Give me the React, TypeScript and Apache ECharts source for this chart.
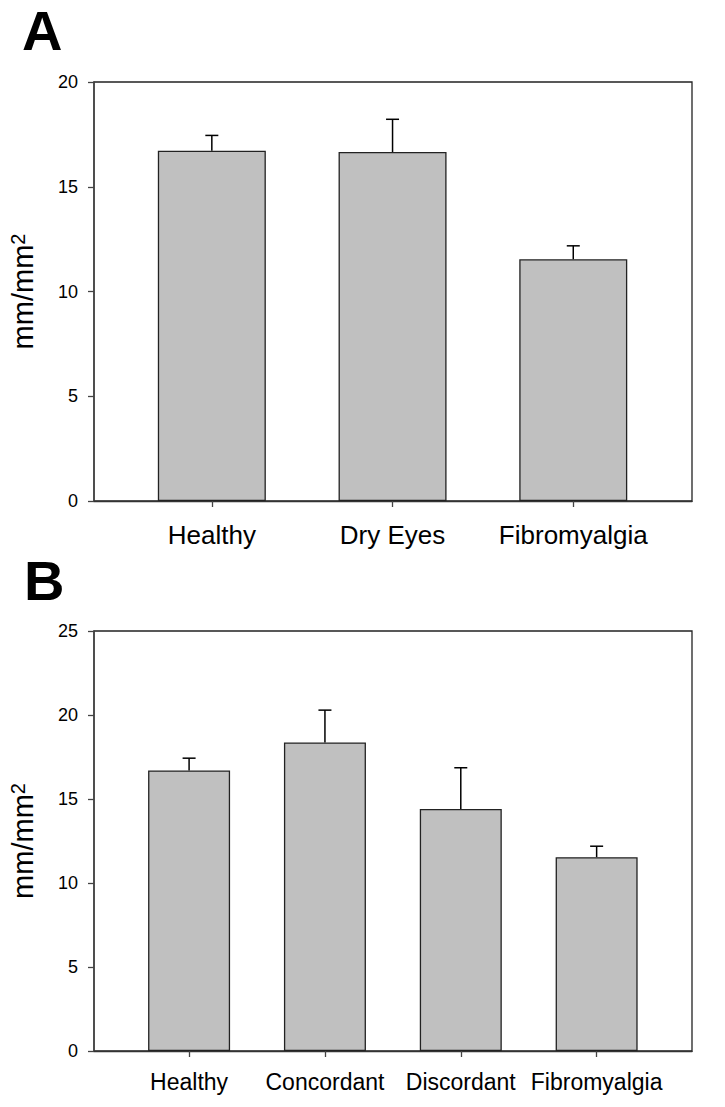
import React, { useEffect, useRef } from "react";
import * as echarts from "echarts";

// Panel A
const groupsA = ["Healthy", "Dry Eyes", "Fibromyalgia"];
const meansA = [16.72, 16.66, 11.54];
const upperA = [17.45, 18.22, 12.18];
const yTicksA = { min: 0, max: 20, interval: 5 };

// Panel B
const groupsB = ["Healthy", "Concordant", "Discordant", "Fibromyalgia"];
const meansB = [16.7, 18.37, 14.41, 11.54];
const upperB = [17.43, 20.29, 16.86, 12.19];
const yTicksB = { min: 0, max: 25, interval: 5 };

const yName = "mm/mm{sup|2}";
const FONT = "Arial, 'Liberation Sans', Helvetica, sans-serif";

function errRender(params: any, api: any) {
  const x = api.value(0);
  const v = api.value(1);
  const e = api.value(2);
  const p0 = api.coord([x, v]);
  const p1 = api.coord([x, e]);
  const hw = 6.5;
  const style = { stroke: "#000", lineWidth: 1.5 };
  return {
    type: "group",
    children: [
      { type: "line", shape: { x1: p0[0], y1: p0[1], x2: p1[0], y2: p1[1] }, style },
      { type: "line", shape: { x1: p1[0] - hw, y1: p1[1], x2: p1[0] + hw, y2: p1[1] }, style },
    ],
  };
}

function xAxisFor(groups: string[], idx: number, min: number, max: number, fontSize: number, margin: number) {
  const pos = groups.map((_, i) => i + 1);
  return {
    type: "value",
    gridIndex: idx,
    min,
    max,
    splitLine: { show: false },
    axisLine: { show: true, onZero: false, lineStyle: { color: "#333", width: 1.3 } },
    axisTick: { show: true, customValues: pos, length: 6, inside: false, lineStyle: { color: "#444", width: 1.3 } },
    axisLabel: {
      customValues: pos,
      formatter: (v: number) => groups[Math.round(v) - 1] ?? "",
      fontSize,
      fontFamily: FONT,
      color: "#000",
      margin,
    },
  };
}

function yAxisFor(idx: number, t: { min: number; max: number; interval: number }) {
  return {
    type: "value",
    gridIndex: idx,
    min: t.min,
    max: t.max,
    interval: t.interval,
    splitLine: { show: false },
    axisLine: { show: true, lineStyle: { color: "#444", width: 1.5 } },
    axisTick: { show: true, length: 6, inside: false, lineStyle: { color: "#444", width: 1.3 } },
    axisLabel: { fontSize: 18, fontFamily: FONT, color: "#000", margin: 16 },
    name: yName,
    nameLocation: "middle",
    nameRotate: 90,
    nameGap: 56,
    nameTextStyle: {
      fontSize: 29,
      fontFamily: FONT,
      color: "#000",
      rich: {
        sup: { fontSize: 20, fontFamily: FONT, color: "#000", verticalAlign: "top", padding: [0, 0, 10, 0] },
      },
    },
  };
}

export default function App() {
  const ref = useRef<HTMLDivElement>(null);
  useEffect(() => {
    if (!ref.current) return;
    const chart = echarts.init(ref.current, null, { renderer: "svg" });
    const barStyle = { color: "#c0c0c0", borderColor: "#222", borderWidth: 1.3 };
    chart.setOption({
      animation: false,
      backgroundColor: "#fff",
      grid: [
        { left: 93, top: 82, width: 599, height: 419, show: true, borderColor: "#222", borderWidth: 1.3, backgroundColor: "transparent" },
        { left: 93, top: 631, width: 599, height: 420, show: true, borderColor: "#222", borderWidth: 1.3, backgroundColor: "transparent" },
      ],
      xAxis: [
        xAxisFor(groupsA, 0, 0.348, 3.657, 26, 21),
        xAxisFor(groupsB, 1, 0.3, 4.702, 23, 19),
      ],
      yAxis: [yAxisFor(0, yTicksA), yAxisFor(1, yTicksB)],
      graphic: [
        { type: "text", x: 22, y: 30, style: { text: "A", font: `bold 56px ${FONT}`, fill: "#000", verticalAlign: "middle" } },
        { type: "text", x: 24, y: 580, style: { text: "B", font: `bold 56px ${FONT}`, fill: "#000", verticalAlign: "middle" } },
      ],
      series: [
        {
          type: "bar",
          xAxisIndex: 0,
          yAxisIndex: 0,
          barWidth: 108,
          itemStyle: barStyle,
          data: meansA.map((v, i) => [i + 1, v]),
        },
        {
          type: "custom",
          xAxisIndex: 0,
          yAxisIndex: 0,
          z: 5,
          renderItem: errRender,
          data: meansA.map((v, i) => [i + 1, v, upperA[i]]),
        },
        {
          type: "bar",
          xAxisIndex: 1,
          yAxisIndex: 1,
          barWidth: 82,
          itemStyle: barStyle,
          data: meansB.map((v, i) => [i + 1, v]),
        },
        {
          type: "custom",
          xAxisIndex: 1,
          yAxisIndex: 1,
          z: 5,
          renderItem: errRender,
          data: meansB.map((v, i) => [i + 1, v, upperB[i]]),
        },
      ],
    });
    return () => chart.dispose();
  }, []);
  return (
    <div
      ref={ref}
      style={{ position: "absolute", left: 0, top: 0, width: 725, height: 1107 }}
    />
  );
}
